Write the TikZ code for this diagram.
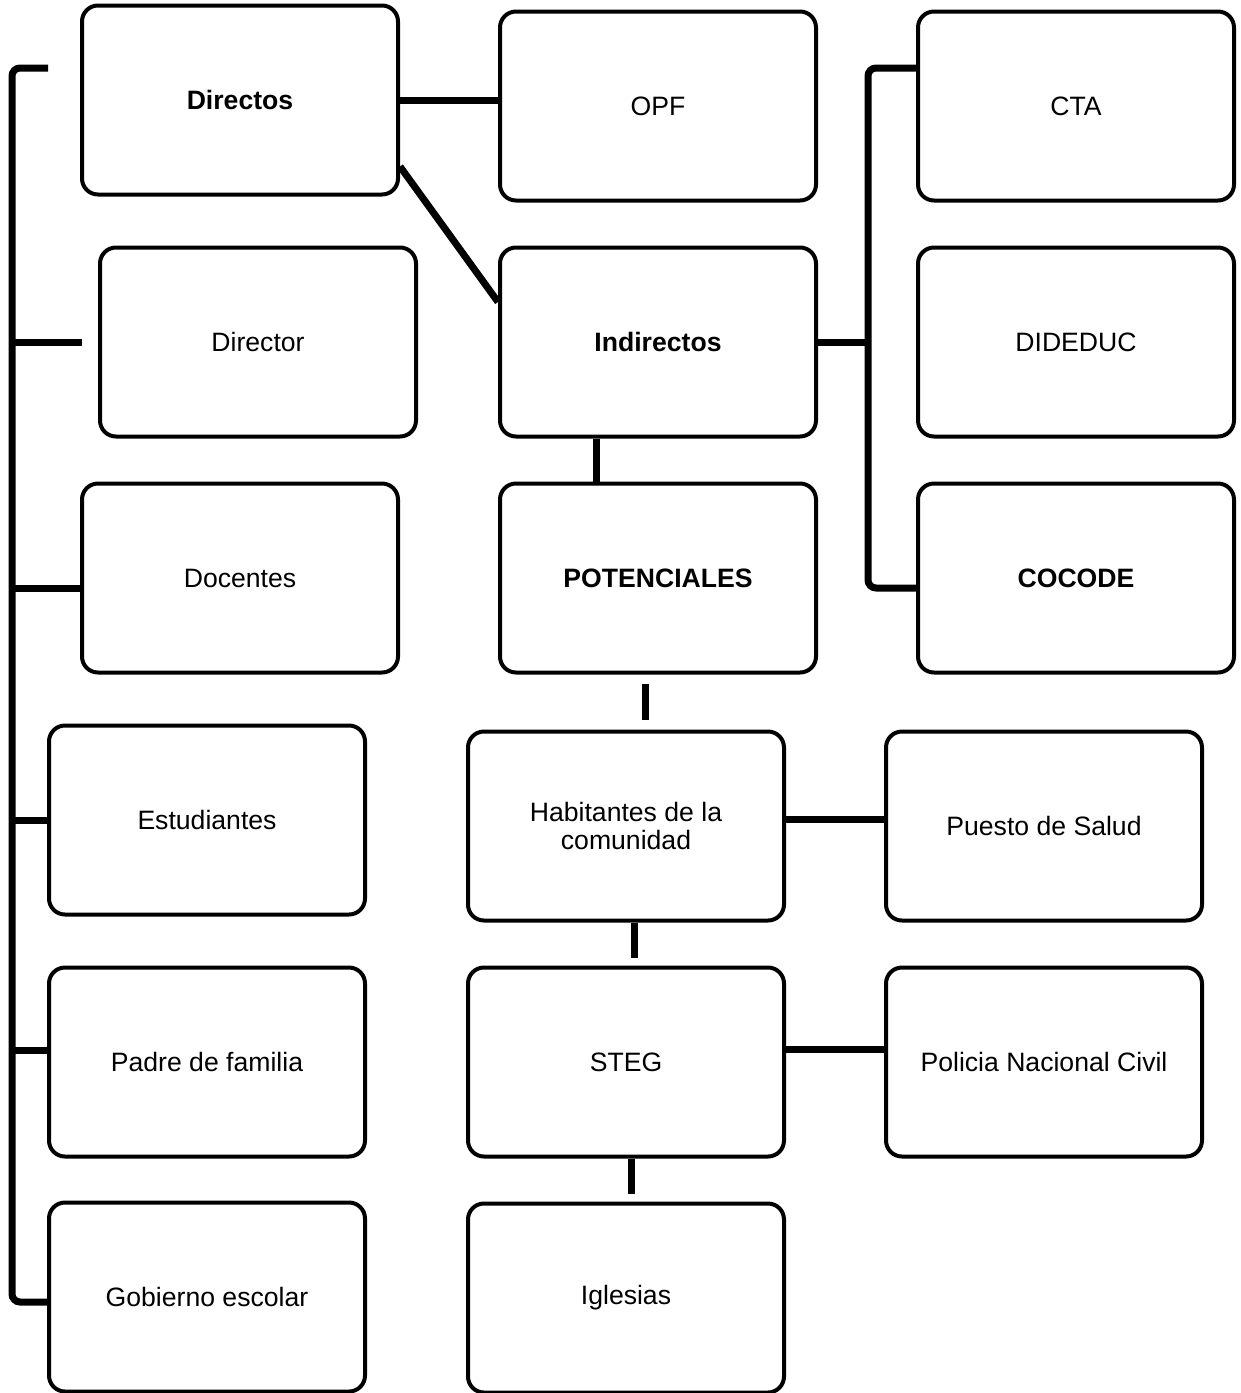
\documentclass[tikz,border=0pt]{standalone}
\usepackage{fontspec}
\setmainfont{Liberation Sans}
\usetikzlibrary{calc, positioning}
\tikzstyle{box}= [draw=black, line width=2pt, rounded corners=8pt, align=center, font=\fontsize{13.3}{14}\selectfont]
\tikzstyle{Box}= [minimum width=158pt, minimum height=94.5pt, box]
\tikzstyle{link}= [line width=3.5pt]

\begin{document}
\begin{tikzpicture}[x=0.5pt, y=-0.5pt]
    \useasboundingbox (0,0) rectangle (1241,1393);

    % first column
    \node [Box] (Directos) at (240,100) {\textbf{Directos}};
    \node [Box] (Director) at (258,342) {Director};
    \node [Box] (Docentes) at (240,578) {Docentes};
    \node [Box] (Estudiantes) at (207,820) {Estudiantes};
    \node [Box] (Padres) at (207,1062) {Padre de familia};
    \node [Box] (Gobierno) at (207,1297) {Gobierno escolar};

    % second column
    \node [Box] (OPF) at (658,106) {OPF};
    \node [Box] (Indirectos) at (658,342) {\textbf{Indirectos}};
    \node [Box] (Potenciales) at (658,578) {\textbf{POTENCIALES}};
    \node [Box] (Habitantes) at (626,826) {Habitantes de la\\comunidad};
    \node [Box] (STEG) at (626,1062) {STEG};
    \node [Box] (Iglesias) at (626,1298) {Iglesias};

    % third column
    \node [Box] (CTA) at (1076,106) {CTA};
    \node [Box] (DIDEDUC) at (1076,342) {DIDEDUC};
    \node [Box] (COCODE) at (1076,578) {\textbf{COCODE}};
    \node [Box] (Salud) at (1044,826) {Puesto de Salud};
    \node [Box] (Policia) at (1044,1062) {Policia Nacional Civil};

    % left bracket
    \coordinate (leftSpine) at (12,0);
    \coordinate (leftTop) at (48,68);
    \coordinate (leftBottom) at (48,1302);
    \draw[link, rounded corners=4pt] (leftTop) -| (leftBottom -| leftSpine) -- (leftBottom);
    \draw[link] ($(Director.west)+(-16,0)$) -- (Director.west -| leftSpine);
    \draw[link] ($(Docentes.west)+(0,10)$) -- ($(Docentes.west -| leftSpine)+(0,10)$);
    \draw[link] (Estudiantes.west) -- (Estudiantes.west -| leftSpine);
    \draw[link] ($(Padres.west)+(0,-12)$) -- ($(Padres.west -| leftSpine)+(0,-12)$);

    % directos path
    \draw[link] (Directos.east) -- (Directos.east -| OPF.west);
    \draw[link] ($(Directos.south east)+(0,-30)$) -- ($(Indirectos.west)+(0,-40)$);

    % right bracket
    \coordinate (rightSpine) at (868,0);
    \draw[link, rounded corners=4pt] ($(CTA.west)+(0,-38)$) -| ($(COCODE.west -| rightSpine)+(0,10)$) -- ($(COCODE.west)+(0,10)$);
    \draw[link] (Indirectos.east) -- (Indirectos.east -| rightSpine);

    % potenciales path
    \draw[link] ($(Indirectos.south)+(-62,0)$) -- ($(Potenciales.north)+(-62,0)$);
    \draw[link] ($(Potenciales.south)+(-13,9)$) -- ($(Habitantes.north)+(19,-10)$);
    \draw[link] ($(Habitantes.south)+(8,0)$) -- ($(STEG.north)+(8,-8)$);
    \draw[link] ($(STEG.south)+(5,0)$) -- ($(Iglesias.north)+(5,-8)$);

    % side links
    \draw[link] ($(Habitantes.east)+(0,-7)$) -- ($(Salud.west)+(0,-7)$);
    \draw[link] ($(STEG.east)+(0,-13)$) -- ($(Policia.west)+(0,-13)$);

\end{tikzpicture}
\end{document}
